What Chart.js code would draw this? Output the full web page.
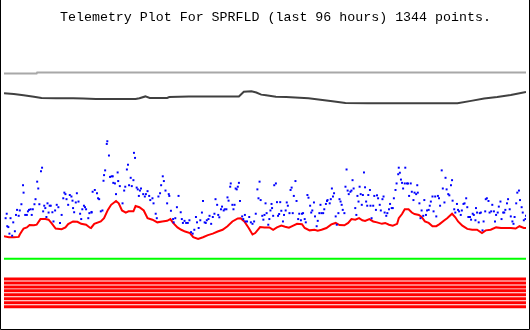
<!DOCTYPE html>
<html>
<head>
<meta charset="utf-8">
<script src="https://cdn.jsdelivr.net/npm/chart.js@4.4.1/dist/chart.umd.min.js"></script>
<style>
  html, body { margin: 0; padding: 0; background: #fff; }
  canvas { display: block; }
</style>
</head>
<body>
<canvas id="plot" width="530" height="330"></canvas>
<script>
// title + x range (hours)
const titleText = 'Telemetry Plot For SPRFLD (last 96 hours) 1344 points.';
const hourRange = [0, 96];

// red trace [hour, value]
const redTrace = [
    [0,30.2],[0.9,29.9],[1.8,29.9],[2.7,30.0],[2.9,30.8],[3.3,32.0],[3.6,32.8],[4.2,33.2],[4.7,34.0],[5.5,33.9],
    [6.0,34.1],[6.7,36.0],[7.6,36.0],[8.2,35.8],[8.7,34.7],[9.5,32.8],[10.6,32.6],[11.3,33.2],[11.8,34.3],[12.7,35.2],
    [13.5,35.1],[14.2,34.4],[15.1,34.1],[15.8,33.1],[16.0,33.0],[16.6,34.4],[17.8,35.2],[18.4,36.3],[19.1,39.1],[19.7,40.8],
    [20.6,42.1],[21.1,41.3],[21.7,38.9],[22.4,38.2],[22.9,38.6],[23.8,38.6],[24.2,40.4],[24.9,40.0],[25.7,38.9],[26.4,36.3],
    [27.3,35.8],[28.2,34.9],[29.1,35.2],[30.0,35.4],[30.6,36.0],[31.1,34.7],[31.9,33.2],[32.6,32.4],[33.3,31.8],[34.2,31.3],
    [34.8,29.9],[35.7,29.3],[36.6,29.9],[37.5,30.6],[38.4,31.1],[39.3,31.8],[40.2,32.4],[41.1,33.6],[42.0,35.2],[43.0,36.2],
    [43.5,36.3],[44.2,35.2],[45.0,33.0],[45.7,30.8],[46.2,31.3],[47.1,33.3],[47.9,33.2],[48.8,33.2],[49.5,32.4],[50.2,33.2],
    [51.0,33.8],[51.7,33.4],[52.4,33.1],[53.1,33.7],[53.9,34.4],[54.8,34.3],[55.3,33.0],[56.2,32.2],[57.1,32.4],[57.7,32.1],
    [58.4,32.4],[59.3,33.0],[60.2,34.2],[61.0,34.7],[61.7,34.0],[62.6,33.9],[63.3,34.7],[63.9,36.0],[64.6,35.8],[65.3,36.3],
    [65.9,35.6],[66.4,35.4],[67.2,36.0],[67.9,35.2],[68.6,34.9],[69.5,34.4],[70.1,34.7],[70.8,34.1],[71.5,33.8],[72.3,34.4],
    [72.6,36.3],[73.2,37.7],[73.7,39.3],[74.4,39.3],[75.0,38.2],[75.5,37.7],[76.3,37.4],[76.8,36.7],[77.4,35.2],[78.1,34.7],
    [78.8,33.6],[79.5,33.6],[80.1,34.3],[81.0,35.6],[81.5,36.3],[82.4,37.8],[83.0,36.6],[83.5,35.2],[84.3,33.8],[85.2,32.7],
    [86.1,32.4],[87.0,32.4],[87.9,31.3],[88.6,32.2],[89.5,32.4],[90.5,33.2],[91.4,33.0],[92.3,33.0],[93.2,33.0],[94.1,32.8],
    [94.8,33.6],[95.6,33.0],[96,33.0]
];

// blue samples [hour, value]
const blueDots = [
    [0.3,36.3],[0.5,37.8],[0.6,33.6],[0.8,33.3],[1.0,31.1],[1.2,36.3],[1.5,30.4],[1.7,34.9],[2.0,31.9],[2.2,37.4],
    [2.4,39.1],[2.7,37.1],[2.9,38.9],[3.2,41.0],[3.5,47.4],[3.6,44.9],[3.9,37.4],[4.2,37.4],[4.4,38.6],[4.6,39.1],
    [4.9,39.3],[5.1,37.4],[5.3,39.3],[5.6,41.0],[5.8,42.7],[6.1,48.6],[6.3,46.3],[6.5,41.0],[6.8,52.1],[7.0,53.3],
    [7.2,38.6],[7.4,40.5],[7.6,39.7],[7.8,36.7],[8.0,41.3],[8.2,38.2],[8.4,40.5],[8.6,40.5],[8.9,38.3],[9.1,35.2],
    [9.4,38.9],[9.7,40.8],[10.0,40.0],[10.3,34.7],[10.6,37.4],[10.9,43.0],[11.1,44.9],[11.3,44.4],[11.5,42.7],[11.8,40.8],
    [12.1,44.1],[12.4,43.6],[12.6,42.2],[12.7,39.7],[12.9,38.3],[13.2,41.6],[13.4,44.7],[13.7,41.9],[14.0,37.8],[14.2,36.0],
    [14.4,39.3],[14.7,40.5],[14.9,40.0],[15.1,39.3],[15.5,36.3],[15.7,38.0],[16.1,38.4],[16.1,38.2],[16.3,45.2],
    [16.7,45.8],[17.1,44.7],[17.3,43.0],[17.5,42.7],[17.8,38.6],[18.1,38.9],[18.3,48.9],[18.4,50.8],[18.6,52.4],[18.9,61.3],
    [19.0,62.2],[19.3,57.4],[19.5,50.2],[19.8,50.4],[20.0,50.4],[20.1,48.2],[20.4,48.0],[20.6,44.4],[20.9,51.7],[21.0,48.8],
    [21.3,47.1],[21.8,41.3],[22.1,45.6],[22.3,46.9],[22.6,52.7],[22.8,54.3],[23.0,47.4],[23.3,49.9],[23.5,47.1],[23.8,49.1],
    [23.9,58.3],[24.1,56.6],[24.4,46.6],[24.6,46.0],[24.8,43.8],[25.0,45.6],[25.2,46.3],[25.6,44.4],[25.9,43.6],[26.1,44.4],
    [26.4,45.4],[26.7,43.8],[26.9,42.4],[27.3,43.0],[27.5,41.3],[27.9,37.8],[28.1,36.3],[28.4,43.6],[28.7,44.7],[28.9,47.4],
    [29.2,50.4],[29.4,48.8],[29.7,45.6],[30.0,41.3],[30.3,44.4],[30.4,43.8],[30.7,38.8],[31.1,36.0],[31.2,34.9],[31.5,36.3],
    [31.8,40.0],[32.1,43.8],[32.5,38.3],[32.7,36.0],[32.9,34.7],[33.2,35.4],[33.5,34.7],[33.8,34.7],[34.1,35.6],[34.4,31.6],
    [34.7,31.1],[35.0,32.4],[35.3,36.7],[35.5,34.9],[35.8,33.0],[36.1,35.6],[36.4,38.2],[36.6,42.1],[36.9,34.9],[37.1,34.7],
    [37.3,35.6],[37.6,36.0],[37.8,37.1],[38.1,34.4],[38.4,36.7],[38.7,37.8],[38.9,42.7],[39.2,40.8],[39.4,37.4],[39.6,36.6],
    [39.9,39.3],[40.1,40.2],[40.4,38.9],[40.6,39.3],[40.9,39.3],[41.1,43.3],[41.3,42.2],[41.6,46.9],[41.7,48.0],[42.0,40.8],
    [42.2,39.3],[42.4,40.8],[42.6,46.3],[42.8,46.0],[43.0,46.9],[43.2,48.2],[43.4,42.1],[43.8,36.9],[44.0,36.0],[44.3,37.4],
    [44.4,35.2],[44.7,35.2],[45.1,36.7],[45.4,34.9],[45.7,34.4],[46.0,35.2],[46.3,37.8],[46.6,46.0],[46.8,43.0],[47.0,48.6],
    [47.2,42.4],[47.5,37.1],[47.7,35.8],[47.9,37.4],[48.1,41.3],[48.3,38.0],[48.6,34.1],[48.8,36.0],[49.0,38.9],[49.2,41.1],
    [49.3,39.7],[49.5,37.1],[49.7,47.4],[50.0,48.0],[50.2,41.7],[50.4,37.1],[50.6,37.7],[50.8,41.7],[51.0,38.8],[51.3,35.2],
    [51.5,37.4],[51.8,38.9],[52.0,41.6],[52.2,40.5],[52.5,38.0],[52.7,45.8],[52.9,46.6],[53.1,38.0],[53.3,43.8],[53.6,48.8],
    [53.8,42.1],[54.1,36.0],[54.3,37.8],[54.6,35.6],[54.8,37.8],[55.0,38.0],[55.3,36.0],[55.5,34.9],[55.8,44.1],[56.0,43.2],
    [56.3,40.5],[56.5,38.2],[56.7,38.9],[57.0,41.6],[57.2,36.9],[57.5,33.6],[57.7,35.4],[58.0,38.0],[58.2,40.8],[58.4,38.0],
    [58.7,38.0],[58.9,39.3],[59.2,41.1],[59.4,42.1],[59.5,42.4],[59.9,41.3],[60.1,42.7],[60.3,46.3],[60.5,43.6],[60.7,44.7],
    [61.0,36.9],[61.2,34.1],[61.5,38.0],[61.7,42.7],[61.9,41.9],[62.1,40.8],[62.3,39.1],[62.6,38.0],[62.8,46.9],[63.0,52.7],
    [63.2,45.6],[63.4,44.4],[63.7,45.2],[63.9,45.6],[64.1,49.1],[64.3,46.3],[64.6,39.7],[64.8,37.4],[65.0,43.8],[65.2,41.9],
    [65.4,46.9],[65.6,44.4],[65.8,40.8],[66.0,44.1],[66.2,51.7],[66.4,46.7],[66.6,41.9],[66.8,40.5],[67.0,44.1],[67.3,45.8],
    [67.4,40.5],[67.6,36.3],[67.9,40.5],[68.1,43.8],[68.4,39.1],[68.6,44.0],[68.8,43.0],[69.1,40.8],[69.3,38.9],[69.6,42.7],
    [69.8,43.6],[70.0,38.2],[70.3,37.1],[70.5,38.0],[70.8,39.3],[71.0,41.1],[71.3,39.7],[71.5,39.7],[71.7,43.0],[72.0,45.8],
    [72.2,48.0],[72.5,51.1],[72.6,53.3],[72.8,51.6],[73.0,49.3],[73.2,48.2],[73.4,46.3],[73.7,48.0],[73.8,53.3],[74.1,48.0],
    [74.3,48.0],[74.5,43.8],[74.8,48.0],[75.0,45.2],[75.3,42.4],[75.5,44.9],[75.8,44.4],[76.0,47.4],[76.1,44.9],[76.4,41.3],
    [76.6,36.3],[76.8,38.9],[77.1,37.1],[77.3,42.4],[77.6,37.4],[77.8,38.9],[78.1,39.1],[78.3,40.5],[78.5,41.9],[78.8,43.6],
    [79.0,38.6],[79.3,43.6],[79.5,36.9],[79.8,43.8],[80.0,43.0],[80.2,40.5],[80.5,52.4],[80.7,46.3],[81.0,41.6],[81.2,49.9],
    [81.4,46.0],[81.7,44.4],[81.9,44.0],[82.2,47.4],[82.4,49.1],[82.5,42.2],[82.8,39.3],[83.0,38.2],[83.3,41.1],[83.5,39.1],
    [83.7,38.6],[84.0,37.4],[84.2,38.9],[84.5,41.1],[84.7,41.3],[85.0,43.0],[85.2,40.0],[85.4,36.7],[85.7,36.7],[85.9,35.8],
    [86.2,37.8],[86.4,37.4],[86.7,35.6],[86.8,39.7],[87.0,38.2],[87.3,34.9],[87.5,38.0],[87.7,38.2],[88.0,32.2],[88.2,35.2],
    [88.5,38.6],[88.6,42.7],[88.8,43.0],[89.1,42.1],[89.3,38.2],[89.6,38.6],[89.8,40.8],[90.1,38.6],[90.3,35.2],[90.5,37.4],
    [90.8,38.2],[91.0,40.2],[91.3,41.9],[91.5,36.0],[91.8,38.2],[92.0,38.2],[92.2,39.1],[92.5,41.3],[92.7,42.7],[93.0,39.3],
    [93.2,36.9],[93.5,35.2],[93.7,34.4],[93.9,36.7],[94.2,41.3],[94.4,44.9],[94.7,45.6],[94.9,42.4],[95.2,40.0],[95.4,38.2],
    [95.6,35.6],[95.9,36.0],[96.0,37.1]
];

// dark grey trace [hour, value]
const greyTrace = [
    [0,78.4],[1.8,78.1],[3.6,77.7],[5.5,77.2],[6.9,76.8],[9.6,76.7],[12.7,76.7],[14.6,76.6],[16.9,76.4],[20.0,76.4],
    [24.2,76.4],[24.9,76.7],[26.0,77.3],[26.8,76.8],[30.0,76.8],[30.4,77.1],[34.0,77.3],[38.8,77.3],[43.2,77.3],[44.1,78.9],
    [45.5,79.0],[46.4,78.6],[47.3,77.9],[48.2,77.7],[50.0,77.2],[51.9,77.1],[56.0,76.7],[60.4,75.7],[62.8,75.1],[67.0,75.0],
    [71.3,75.0],[75.5,75.0],[83.4,75.0],[85.9,75.8],[88.3,76.6],[90.7,77.1],[93.2,77.8],[96,78.8]
];

// light grey level [hour, value]
const lightTrace = [[0,85.0],[6.0,85.0],[6.1,85.33],[96,85.33]];

// flat levels
const greenLevel = 22.67;
const redBands = [15.83, 14.5, 13.17, 11.83, 10.5, 9.17, 7.83, 6.5];

const toXY = arr => arr.map(p => ({ x: p[0], y: p[1] }));
const flat = v => [{ x: hourRange[0], y: v }, { x: hourRange[1], y: v }];

const datasets = [
    {
        label: 'blue',
        data: toXY(blueDots),
        showLine: false,
        pointStyle: 'rect',
        pointRadius: 1.4,
        pointBorderWidth: 0,
        pointBackgroundColor: '#0000ff',
        borderColor: '#0000ff'
    },
    {
        label: 'red',
        data: toXY(redTrace),
        borderColor: '#ff0000',
        borderWidth: 2,
        pointRadius: 0,
        tension: 0
    },
    {
        label: 'grey',
        data: toXY(greyTrace),
        borderColor: '#404040',
        borderWidth: 2,
        pointRadius: 0
    },
    {
        label: 'light',
        data: toXY(lightTrace),
        borderColor: '#a8a8a8',
        borderWidth: 2,
        pointRadius: 0
    },
    {
        label: 'green',
        data: flat(greenLevel),
        borderColor: '#00ff00',
        borderWidth: 2,
        pointRadius: 0
    }
];

redBands.forEach((lvl, i) => {
    datasets.push({
        label: 'band' + i,
        data: flat(lvl),
        borderColor: '#ff0000',
        borderWidth: 3,
        pointRadius: 0
    });
});

// frame + heading
const frame = {
    id: 'frame',
    afterDraw(chart) {
        const ctx = chart.ctx;
        ctx.save();
        ctx.fillStyle = '#000';
        ctx.font = '13.3px "Liberation Mono", "DejaVu Sans Mono", monospace';
        ctx.textAlign = 'left';
        ctx.textBaseline = 'alphabetic';
        ctx.fillText(titleText, 60, 21);
        ctx.strokeStyle = '#000';
        ctx.lineWidth = 1;
        ctx.beginPath();
        ctx.moveTo(0.5, 0);
        ctx.lineTo(0.5, 329.5);
        ctx.lineTo(529.5, 329.5);
        ctx.lineTo(529.5, 0);
        ctx.stroke();
        ctx.restore();
    }
};

new Chart(document.getElementById('plot'), {
    type: 'line',
    data: { datasets: datasets },
    options: {
        responsive: false,
        animation: false,
        layout: { padding: { left: 1, right: 2, top: 29, bottom: 1 } },
        plugins: {
            legend: { display: false },
            tooltip: { enabled: false },
            title: { display: false }
        },
        scales: {
            x: { type: 'linear', min: hourRange[0], max: hourRange[1], display: false },
            y: { min: 0, max: 100, display: false }
        }
    },
    plugins: [frame]
});
</script>
</body>
</html>
